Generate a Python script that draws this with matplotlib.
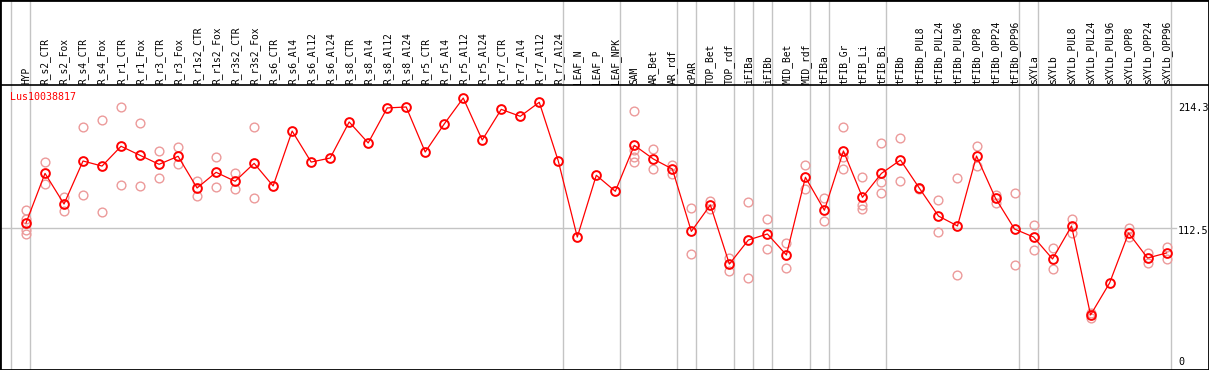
import matplotlib
matplotlib.use("Agg")
import matplotlib.pyplot as plt

categories = ["HYP", "R_s2_CTR", "R_s2_Fox", "R_s4_CTR", "R_s4_Fox", "R_r1_CTR", "R_r1_Fox",
              "R_r3_CTR", "R_r3_Fox", "R_r1s2_CTR", "R_r1s2_Fox", "R_r3s2_CTR", "R_r3s2_Fox",
              "R_s6_CTR", "R_s6_Al4", "R_s6_Al12", "R_s6_Al24", "R_s8_CTR", "R_s8_Al4", "R_s8_Al12",
              "R_s8_Al24", "R_r5_CTR", "R_r5_Al4", "R_r5_Al12", "R_r5_Al24", "R_r7_CTR", "R_r7_Al4",
              "R_r7_Al12", "R_r7_Al24", "LEAF_N", "LEAF_P", "LEAF_NPK", "SAM", "AR_Bet", "AR_rdf",
              "cPAR", "TOP_Bet", "TOP_rdf", "iFIBa", "iFIBb", "MID_Bet", "MID_rdf", "tFIBa",
              "tFIB_Gr", "tFIB_Li", "tFIB_Bi", "tFIBb", "tFIBb_PUL8", "tFIBb_PUL24", "tFIBb_PUL96",
              "tFIBb_OPP8", "tFIBb_OPP24", "tFIBb_OPP96", "sXYLa", "sXYLb", "sXYLb_PUL8",
              "sXYLb_PUL24", "sXYLb_PUL96", "sXYLb_OPP8", "sXYLb_OPP24", "sXYLb_OPP96"]

means = [116.7, 158.8, 132.8, 169.3, 165.0, 181.8, 174.1, 166.5, 173.3, 146.4, 159.7, 152.1,
         167.3, 148.1, 194.7, 168.4, 171.8, 202.4, 184.6, 214.3, 215.1, 176.9, 200.7, 222.7,
         187.1, 213.1, 207.2, 219.1, 169.3, 104.8, 157.2, 143.6, 182.6, 171.0, 162.5, 109.6,
         132.0, 81.9, 102.3, 107.4, 89.6, 155.5, 127.5, 177.8, 138.5, 158.8, 170.1, 146.1,
         122.6, 114.2, 173.5, 137.7, 111.6, 104.8, 86.2, 114.2, 38.7, 65.8, 108.2, 87.0, 91.3]

replicates = [[127.6, 120.4, 111.0, 107.6], [168.4, 149.5], [139.0, 126.6], [197.9, 140.5],
              [203.8, 125.8], [214.8, 148.7], [201.3, 148.1], [177.8, 154.9], [180.9, 166.5],
              [152.3, 139.6], [172.4, 147.2], [159.1, 145.8], [197.9, 137.9], [], [], [], [], [],
              [], [], [], [], [], [], [], [], [], [], [], [], [], [],
              [211.4, 178.6, 172.7, 168.4], [179.5, 162.5], [165.6, 158.3], [129.4, 90.4],
              [135.6, 128.3], [87.0, 76.0], [134.5, 70.1], [120.1, 94.7], [99.7, 78.5],
              [165.6, 145.8], [137.7, 118.2], [197.9, 172.9, 162.3], [155.7, 132.0, 128.3],
              [184.3, 151.5, 141.9], [188.5, 152.1], [146.6, 145.6], [136.0, 108.8],
              [154.9, 72.3], [181.8, 164.8], [140.5, 134.0], [141.9, 80.8], [115.0, 93.8],
              [95.2, 77.7], [120.1, 108.0], [40.1, 36.4], [], [112.2, 104.6], [91.0, 83.0],
              [96.6, 85.9]]

group_ends = [-1.02, 0, 28, 31, 34, 35, 37, 38, 39, 41, 42, 45, 52, 53, 60]
gene = "Lus10038817"
ytick_values = [214.3, 112.5, 0]
ytick_labels = ["214.3", "112.5", "0"]

W, H = 1209, 370
fig = plt.figure(figsize=(W / 100, H / 100), dpi=100)
ax = fig.add_axes([0, 0, 1, 1])

# pixel mapping: x_px = 26 + 19.01*i ; y_px(from top) = 360.6 - 1.179*v
dx = 19.01
x0 = 26.0
ppu = 1.179
y0 = 360.6
ax.set_xlim(-x0 / dx, (W - x0) / dx)
ax.set_ylim((y0 - H) / ppu, y0 / ppu)
ax.set_xticks([])
ax.set_yticks([])
for s in ax.spines.values():
    s.set_color("black")
    s.set_linewidth(2.0)

def vy(py):
    return (y0 - py) / ppu

gray = "#c4c4c4"
for g in group_ends:
    ax.axvline(g + 0.23, color=gray, lw=1.0, zorder=1)

# horizontal gridline at 112.5
ax.plot([-x0 / dx, (1176 - x0) / dx], [112.5, 112.5], color=gray, lw=1.0, zorder=1)
# separator between labels and plot
ax.axhline(vy(85), color="black", lw=1.2, zorder=2)

xs = list(range(len(categories)))
# replicates
for i, reps in enumerate(replicates):
    if reps:
        ax.plot([i] * len(reps), reps, linestyle="none", marker="o", markersize=6.3,
                markerfacecolor="none", markeredgecolor="#ec9a9a", markeredgewidth=1.0, zorder=3)
ax.plot(xs, means, color="red", lw=0.9, zorder=4)
ax.plot(xs, means, linestyle="none", marker="o", markersize=6.3, markerfacecolor="none",
        markeredgecolor="red", markeredgewidth=1.4, zorder=5)

# category labels
for i, c in enumerate(categories):
    ax.text(i + 0.02, vy(83.5), c, rotation=90, ha="center", va="bottom",
            fontsize=6.9, family="DejaVu Sans Mono", color="black", zorder=6)

ax.text(-x0 / dx + 9.5 / dx, vy(97), gene, ha="left", va="center", fontsize=7.2,
        family="DejaVu Sans Mono", color="red", zorder=6)

label_x = (1178 - x0) / dx
for v, lab, off in zip(ytick_values, ytick_labels, [0.5, 3.5, 1]):
    ax.text(label_x, v - off / ppu, lab, ha="left", va="center", fontsize=7.3,
            family="DejaVu Sans Mono", color="black", zorder=6)

fig.savefig("out.png", dpi=100)
